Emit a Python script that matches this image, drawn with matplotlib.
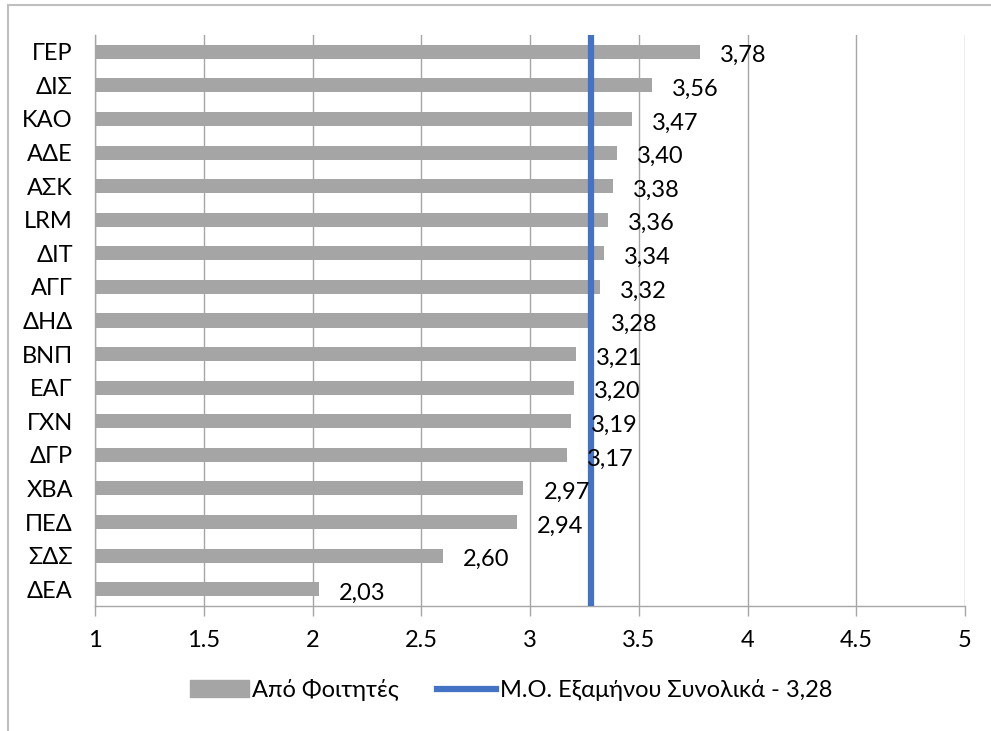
import matplotlib
matplotlib.use("Agg")
import matplotlib.pyplot as plt
from matplotlib.patches import Rectangle
from matplotlib.lines import Line2D

categories = ["ΓΕΡ", "ΔΙΣ", "ΚΑΟ", "ΑΔΕ", "ΑΣΚ", "LRM", "ΔΙΤ", "ΑΓΓ", "ΔΗΔ",
              "ΒΝΠ", "ΕΑΓ", "ΓΧΝ", "ΔΓΡ", "ΧΒΑ", "ΠΕΔ", "ΣΔΣ", "ΔΕΑ"]
values = [3.78, 3.56, 3.47, 3.40, 3.38, 3.36, 3.34, 3.32, 3.28,
          3.21, 3.20, 3.19, 3.17, 2.97, 2.94, 2.60, 2.03]
mean_value = 3.28
xticks = [1, 1.5, 2, 2.5, 3, 3.5, 4, 4.5, 5]
xtick_labels = ["1", "1.5", "2", "2.5", "3", "3.5", "4", "4.5", "5"]
bar_label = "Από Φοιτητές"
line_label = "Μ.Ο. Εξαμήνου Συνολικά - 3,28"

plt.rcParams['font.family'] = ['Lato', 'DejaVu Sans']
FS = 17

W, H = 991, 731
fig = plt.figure(figsize=(W / 100, H / 100), dpi=100)
ax = fig.add_axes([95 / W, 1 - 606 / H, (965 - 95) / W, (606 - 35) / H])

grey_bar = "#A5A5A5"
grid_c = "#A6A6A6"
blue = "#4472C4"

n = len(categories)
ypos = list(range(n))
ax.barh(ypos, [v - 1 for v in values], left=1, height=0.42, color=grey_bar, zorder=2)
ax.set_ylim(n - 0.5, -0.5)
ax.set_xlim(1, 5)
ax.axvline(mean_value, color=blue, lw=4.5, zorder=3)

for y, v in zip(ypos, values):
    ax.annotate(f"{v:.2f}".replace(".", ","), (v, y), xytext=(20, -4),
                textcoords="offset pixels", va="center", ha="left",
                fontsize=FS, color="black", zorder=4)

ax.set_xticks(xticks)
ax.set_xticklabels(xtick_labels, fontsize=FS)
ax.set_yticks(ypos)
ax.set_yticklabels(categories, fontsize=FS)
ax.tick_params(axis="y", length=0, pad=16)
ax.tick_params(axis="x", length=7, color=grid_c, width=1, pad=10, direction="out")
ax.grid(axis="x", color=grid_c, lw=1, zorder=1)
for s in ["top", "right"]:
    ax.spines[s].set_visible(False)
for s in ["left", "bottom"]:
    ax.spines[s].set_color(grid_c)
    ax.spines[s].set_linewidth(1)

handles = [Rectangle((0, 0), 1, 1, color=grey_bar),
           Line2D([0], [0], color=blue, lw=4.5)]
fig.legend(handles, [bar_label, line_label], loc="center",
           bbox_to_anchor=(511 / W, 1 - 690 / H), ncol=2, frameon=False,
           fontsize=FS, handlelength=2.5, handletextpad=0.15, columnspacing=1.6)

fig.patches.append(Rectangle((8 / W, -0.1), 1.2, 1 - 5 / H + 0.1,
                             transform=fig.transFigure, fill=False,
                             edgecolor="#BFBFBF", lw=1.5))

fig.savefig("out.png", dpi=100)
